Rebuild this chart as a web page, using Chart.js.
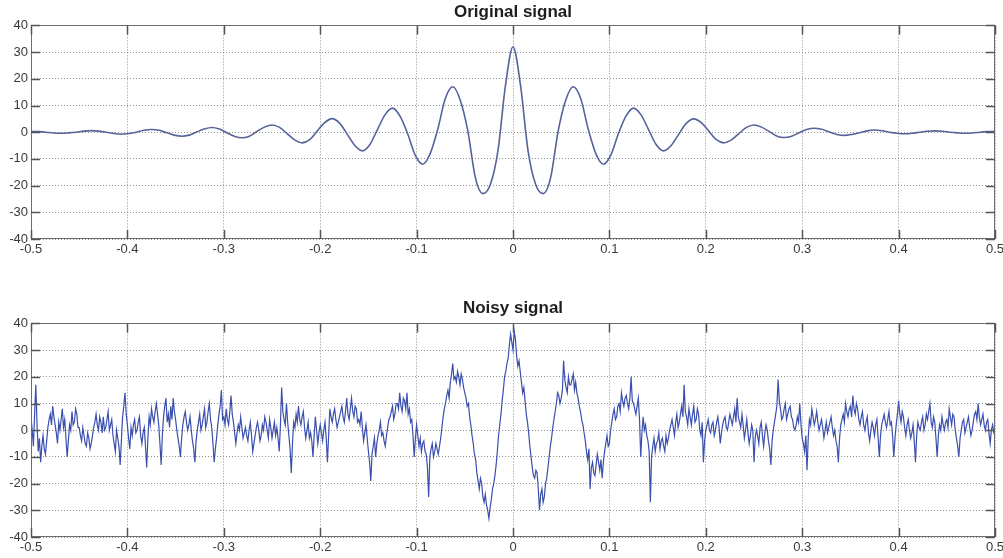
<!DOCTYPE html>
<html>
<head>
<meta charset="utf-8">
<script src="https://cdn.jsdelivr.net/npm/chart.js@4.4.1/dist/chart.umd.min.js"></script>
<style>
  html, body { margin: 0; padding: 0; background: #fff; }
  #wrap { position: relative; width: 1003px; height: 558px; }
  canvas { position: absolute; left: 0; }
  #topChart { top: 0; }
  #bottomChart { top: 279px; }
</style>
</head>
<body>
<div id="wrap">
  <canvas id="topChart" width="1003" height="279"></canvas>
  <canvas id="bottomChart" width="1003" height="279"></canvas>
</div>
<script>
// axis ticks (same for both plots)
var xTicks = [-0.5, -0.4, -0.3, -0.2, -0.1, 0, 0.1, 0.2, 0.3, 0.4, 0.5];
var xTickLabels = ['-0.5', '-0.4', '-0.3', '-0.2', '-0.1', '0', '0.1', '0.2', '0.3', '0.4', '0.5'];
var yTicks = [-40, -30, -20, -10, 0, 10, 20, 30, 40];
var yTickLabels = ['-40', '-30', '-20', '-10', '0', '10', '20', '30', '40'];

// original signal, sampled every 1/128 from -0.5 to 0.5
var origStart = -0.5;
var origStep = 1 / 128;
var origY = [
  0.3, 0.2, 0, -0.3, -0.4, -0.25, 0, 0.4, 0.6, 0.4, 0, -0.5, -0.75, -0.5, 0, 0.7,
  1.0, 0.7, -0.2, -1.1, -1.5, -1.1, 0.1, 1.2, 1.75, 1.2, -0.2, -1.5, -2.1, -1.5, 0.3, 1.9,
  2.7, 1.8, -0.5, -2.9, -4, -2.8, 0.4, 3.6, 5.1, 3.3, -0.8, -5, -7, -4.6, 1, 6.5,
  9, 6, -0.5, -8.5, -12, -8, 1, 12.5, 17, 12, 0.5, -17, -23, -19.5, -7, 17.5,
  32,
  17.5, -7, -19.5, -23, -17, 0.5, 12, 17, 12.5, 1, -8, -12, -8.5, -0.5, 6, 9,
  6.5, 1, -4.6, -7, -5, -0.8, 3.3, 5, 3.6, 0.4, -2.8, -4, -2.9, -0.5, 1.8, 2.7,
  1.9, 0.3, -1.4, -2, -1.5, -0.2, 1.0, 1.5, 1.1, 0.1, -0.85, -1.2, -0.85, -0.2, 0.5, 0.8,
  0.55, 0, -0.4, -0.6, -0.4, 0, 0.35, 0.5, 0.35, 0, -0.25, -0.4, -0.3, 0, 0.2, 0.3
];

// noisy signal, sampled every 0.00125 from -0.5 to 0.5 (one row = 0.05)
var noisyStart = -0.5;
var noisyStep = 0.00125;
var noisyY = [
  5, 0, -6, 6, 17, 2, -8, -3, -12, -6, -2, -7, -9, -4, 1, 4, 6, 2, 9, 5, 2, -1, -5, 3, 0, 4, 8, 1, 4, -3, -10, -4, 2, 0, 7, 2, 3, 8, 6, 1,
  1, -2, -4, 1, -2, -5, -6, -1, -3, -7, -5, -2, 1, 3, 6, 2, 0, 5, 3, -1, 5, 0, 1, 4, 7, 0, 2, 4, -2, -5, -8, 0, -3, -6, -13, -4, 5, 9, 14, 6,
  2, -3, -7, 1, -2, 2, 4, -1, 0, 3, 5, -2, -5, -1, 1, -6, -14, -3, 5, 2, 8, 5, 3, 7, 10, 6, 2, -5, -13, -2, 5, 9, 12, 3, 6, 1, 9, 4, 12, 7,
  4, 0, -3, -6, -10, -3, 2, 5, 7, 3, 0, 2, 5, 0, -4, -7, -12, -4, 0, 3, 6, 0, 2, 5, 8, 1, 3, 7, 10, 4, 1, -5, -12, -7, -3, 2, 6, 9, 15, 4,
  5, 2, 8, 4, 2, 7, 13, 6, 3, -1, -5, -1, 2, 0, 5, 1, -3, -1, 1, -2, -4, 0, 3, -2, -8, -5, -2, 1, 3, 0, -4, -2, 2, 0, 5, 3, 0, -3, 4, 1,
  -3, 0, 3, -2, 1, -3, -8, 2, 16, 7, 4, 2, 10, 3, -2, -7, -16, -5, 3, 1, 6, 3, 9, 4, 2, 5, 7, 1, -3, 0, 3, -3, -1, -4, -10, -2, 5, 0, -5, -1,
  2, -1, -4, 0, 3, -3, -12, -2, 8, 5, 3, 6, 8, 4, 1, 3, 5, 7, 9, 5, 3, 7, 12, 6, 4, 8, 12, 7, 5, 9, 8, 3, 4, 2, 7, 1, -4, -1, 2, -3,
  -8, -12, -19, -9, -6, -3, -10, -5, -2, 0, 3, -2, -1, -4, -6, -2, 1, 4, 5, 7, 9, 4, 6, 10, 10, 8, 14, 9, 7, 12, 11, 8, 14, 6, 8, 3, 4, -2, -10, -3,
  2, -2, -6, -3, -8, -5, -4, -8, -9, -14, -25, -10, -7, -5, -10, -8, -5, -7, -9, -6, -3, 1, 5, 8, 10, 13, 15, 12, 18, 21, 25, 19, 20, 18, 22, 20, 17, 21, 19, 16,
  14, 12, 9, 10, 5, 2, -2, -5, -9, -11, -16, -19, -22, -18, -20, -25, -27, -24, -28, -30, -33, -29, -26, -22, -20, -17, -13, -8, -2, 2, 6, 11, 15, 20, 22, 25, 27, 32, 36, 33,
  30, 37, 34, 28, 24, 26, 22, 18, 14, 16, 11, 6, 3, -1, -6, -10, -14, -17, -18, -15, -16, -22, -30, -24, -22, -27, -25, -20, -18, -14, -10, -6, -3, 1, 4, 7, 10, 14, 13, 10,
  12, 15, 26, 19, 16, 14, 20, 17, 17, 19, 21, 15, 18, 14, 12, 9, 7, 4, 2, -1, -4, -8, -11, -7, -22, -14, -12, -16, -17, -13, -9, -12, -15, -11, -18, -12, -8, -5, -2, -6,
  -5, 0, 3, 6, 8, 4, 5, 9, 10, 7, 14, 11, 9, 12, 13, 10, 8, 12, 20, 11, 10, 8, 6, 9, 12, 4, -10, -1, 5, 0, 2, -2, -4, -8, -27, -10, -6, -3, -8, -5,
  -4, -1, -7, -4, -3, -6, -8, -2, -5, -3, 0, 2, 4, 1, -2, 3, 6, 1, 3, 6, 9, 5, 17, 7, 5, 2, 8, 5, 2, 6, 9, 3, 4, 8, 6, 0, -2, 3, -12, -4,
  0, 2, 4, 0, -1, 2, 3, -2, 0, 3, 5, 1, -5, -1, 2, 4, 5, 1, 0, 3, 6, 4, 2, 5, 8, 3, 12, 5, 3, 1, 6, 2, -3, 0, 4, -1, -5, -2, 2, 0,
  -12, -3, 0, -2, -5, 1, 3, -2, -6, -1, 2, 0, -4, -7, -13, -4, 0, 3, 6, 9, 19, 11, 8, 4, 5, 8, 10, 4, 6, 8, 9, 5, 4, 1, 0, 2, 5, 3, 10, 2,
  -3, -5, -8, -2, -15, -3, 4, 2, 8, 5, 2, 4, 7, 3, 0, 2, 4, 1, -3, 0, 3, -1, 1, 3, 5, 1, -2, 0, -4, -6, -12, -3, 2, 4, 6, 3, 10, 7, 5, 8,
  9, 5, 13, 8, 6, 10, 8, 4, 2, 5, 7, 2, 0, 3, 5, -1, -4, 0, 3, 1, -2, 2, 4, -3, -10, -2, 2, 4, 6, 3, 1, 4, 7, 2, 3, -2, -10, -3, 2, 6,
  11, 6, 3, 7, 5, 1, -2, 2, 4, 0, -3, -1, 2, -4, -12, -2, 3, 1, 0, 3, 5, 0, 2, 6, 4, 7, 10, 3, 1, 5, 3, -3, -10, -2, 2, 0, 5, 2, 0, 3,
  4, 1, 8, 5, 2, 6, 5, 0, -3, -6, -10, -3, 0, 3, 4, -1, 1, 3, 5, 1, -2, 0, 3, 6, 7, 4, 10, 5, 2, 4, 6, 2, 0, 3, 4, -1, -5, 0, 2, -1,
  -2
];

var fontFamily = "'Liberation Sans', Arial, Helvetica, sans-serif";

function toPoints(start, step, values) {
  return values.map(function (v, i) {
    return { x: start + i * step, y: v };
  });
}

// box round the plot and small ticks pointing inwards, like matlab axes
var matlabBox = {
  id: 'matlabBox',
  afterDraw: function (chart) {
    var ctx = chart.ctx;
    var a = chart.chartArea;
    var xs = chart.scales.x;
    var ys = chart.scales.y;
    var len = 9;
    ctx.save();
    ctx.strokeStyle = '#6e6e6e';
    ctx.lineWidth = 1;
    ctx.strokeRect(Math.round(a.left) + 0.5, Math.round(a.top) + 0.5,
      Math.round(a.right - a.left) - 1, Math.round(a.bottom - a.top) - 1);
    ctx.lineWidth = 1.5;
    ctx.strokeStyle = '#555';
    ctx.beginPath();
    xTicks.forEach(function (v) {
      var px = Math.round(xs.getPixelForValue(v)) + 0.5;
      ctx.moveTo(px, a.top);
      ctx.lineTo(px, a.top + len);
      ctx.moveTo(px, a.bottom);
      ctx.lineTo(px, a.bottom - len);
    });
    yTicks.forEach(function (v) {
      var py = Math.round(ys.getPixelForValue(v)) + 0.5;
      ctx.moveTo(a.left, py);
      ctx.lineTo(a.left + len, py);
      ctx.moveTo(a.right, py);
      ctx.lineTo(a.right - len, py);
    });
    ctx.stroke();
    ctx.restore();
  }
};

function makeOptions(titleText, padTop, titlePadBottom, xAxisHeight) {
  return {
    responsive: false,
    animation: false,
    devicePixelRatio: 1,
    layout: { padding: { top: padTop, right: 8, left: 0, bottom: 0 } },
    plugins: {
      legend: { display: false },
      tooltip: { enabled: false },
      title: {
        display: true,
        fullSize: false,   // centre the title over the plot, not the canvas
        text: titleText,
        color: '#1e1e1e',
        font: { family: fontFamily, size: 17, weight: 'bold' },
        padding: { top: 2, bottom: titlePadBottom }
      }
    },
    scales: {
      x: {
        type: 'linear',
        min: -0.5,
        max: 0.5,
        afterBuildTicks: function (scale) {
          scale.ticks = xTicks.map(function (v) { return { value: v }; });
        },
        afterFit: function (scale) {
          scale.height = xAxisHeight;
          // let the end labels hang over the edges, don't shrink the plot
          scale.paddingLeft = 0;
          scale.paddingRight = 0;
        },
        grid: { color: '#8f8f8f', lineWidth: 1, drawTicks: false },
        border: { display: false, dash: [1, 2] },
        ticks: {
          padding: 3,
          color: '#3a3a3a',
          maxRotation: 0,
          autoSkip: false,
          font: { family: fontFamily, size: 13 },
          callback: function (v, i) { return xTickLabels[i]; }
        }
      },
      y: {
        type: 'linear',
        min: -40,
        max: 40,
        afterBuildTicks: function (scale) {
          scale.ticks = yTicks.map(function (v) { return { value: v }; });
        },
        afterFit: function (scale) { scale.width = 31; },
        grid: { color: '#8f8f8f', lineWidth: 1, drawTicks: false },
        border: { display: false, dash: [1, 2] },
        ticks: {
          padding: 3,
          color: '#3a3a3a',
          autoSkip: false,
          font: { family: fontFamily, size: 13 },
          callback: function (v, i) { return yTickLabels[i]; }
        }
      }
    }
  };
}

new Chart(document.getElementById('topChart'), {
  type: 'line',
  data: {
    datasets: [{
      data: toPoints(origStart, origStep, origY),
      borderColor: '#56629a',
      borderWidth: 1.6,
      pointRadius: 0,
      cubicInterpolationMode: 'monotone',
      fill: false
    }]
  },
  options: makeOptions('Original signal', 0, 3, 40),
  plugins: [matlabBox]
});

new Chart(document.getElementById('bottomChart'), {
  type: 'line',
  data: {
    datasets: [{
      data: toPoints(noisyStart, noisyStep, noisyY),
      borderColor: '#3a4fae',
      borderWidth: 1.2,
      pointRadius: 0,
      tension: 0,
      fill: false
    }]
  },
  options: makeOptions('Noisy signal', 17, 5, 21),
  plugins: [matlabBox]
});
</script>
</body>
</html>
